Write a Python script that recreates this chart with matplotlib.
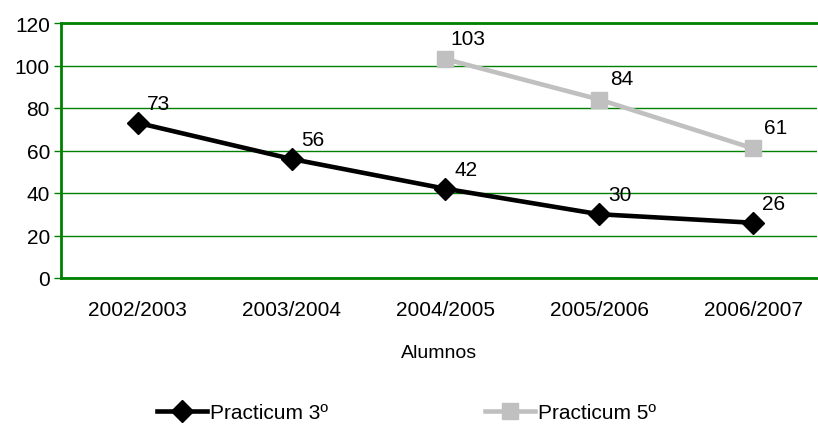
import matplotlib.pyplot as plt

plt.rcParams['font.family'] = ['Liberation Sans', 'DejaVu Sans']

# cursos y alumnos de cada practicum
cursos = ["2002/2003", "2003/2004", "2004/2005", "2005/2006", "2006/2007"]
practicum3 = [73, 56, 42, 30, 26]
practicum5_cursos = [2, 3, 4]
practicum5 = [103, 84, 61]

verde = "#008000"
fs = 15

fig = plt.figure(figsize=(8.18, 4.27), dpi=100)
ax = fig.add_axes([61/818, 1-279/427, (817-61)/818, (279-24)/427])

x3 = list(range(len(cursos)))
ax.plot(x3, practicum3, color="black", lw=3.3, marker="D", ms=11.5,
        label="Practicum 3º", zorder=4)
ax.plot(practicum5_cursos, practicum5, color="#c0c0c0", lw=3.3, marker="s", ms=11,
        label="Practicum 5º", zorder=3)

for x, v in zip(x3, practicum3):
    ax.annotate(str(v), (x, v), xytext=(15, 14), textcoords="offset points",
                ha="center", va="center", fontsize=fs)
for x, v in zip(practicum5_cursos, practicum5):
    ax.annotate(str(v), (x, v), xytext=(16, 15), textcoords="offset points",
                ha="center", va="center", fontsize=fs)

ax.set_xlim(-0.5, 4.416)
ax.set_ylim(0, 120)
ax.set_yticks(range(0, 121, 20))
ax.set_xticks(x3)
ax.set_xticklabels(cursos)
ax.tick_params(axis="y", colors=verde, labelcolor="black", labelsize=fs,
               length=5, width=1, direction="out", pad=3)
ax.tick_params(axis="x", length=0, labelsize=fs, pad=16)
ax.grid(axis="y", color=verde, lw=1)
ax.set_axisbelow(True)

for s in ["left", "bottom", "top"]:
    ax.spines[s].set_color(verde)
    ax.spines[s].set_linewidth(2)
ax.spines["right"].set_visible(False)

ax.set_xlabel("Alumnos", fontsize=14, labelpad=18)

fig.legend(loc="center", bbox_to_anchor=(0.497, 1-414/427), ncol=2, frameon=False,
           fontsize=fs, handlelength=2.4, handletextpad=0.15, columnspacing=7.5)

fig.savefig("out.png", dpi=100)
